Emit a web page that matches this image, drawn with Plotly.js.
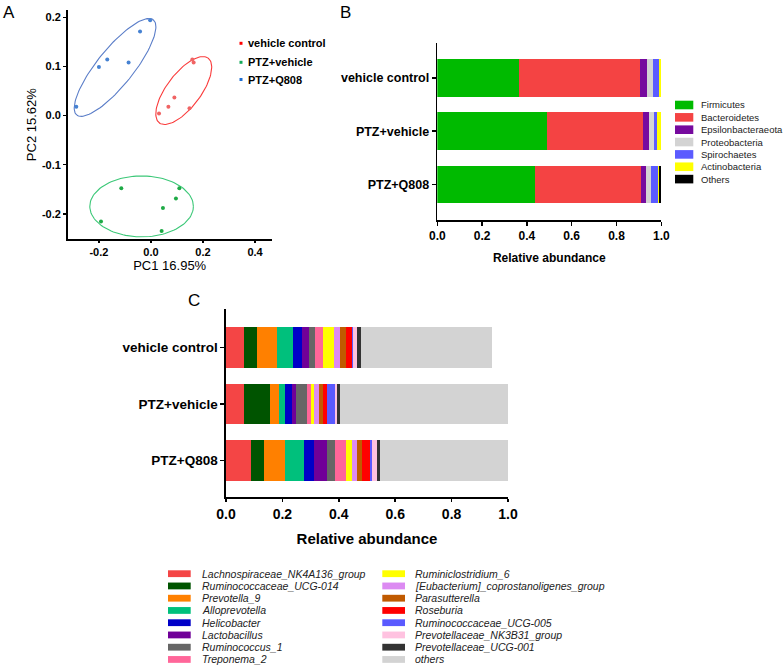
<!DOCTYPE html>
<html>
<head>
<meta charset="utf-8">
<script src="https://cdn.plot.ly/plotly-3.0.1.min.js"></script>
<style>html,body{margin:0;padding:0;background:#fff;}#chart{width:784px;height:666px;}</style>
</head>
<body>
<div id="chart"></div>
<script>
// ---------- Panel A : PCoA ----------
const groups = ['vehicle control', 'PTZ+vehicle', 'PTZ+Q808'];
const vcPC1 = [0.031, 0.067, 0.090, 0.148, 0.159, 0.164];
const vcPC2 = [0.004, 0.018, 0.037, 0.015, 0.114, 0.108];
const pvPC1 = [-0.114, -0.192, 0.046, 0.041, 0.096, 0.109];
const pvPC2 = [-0.148, -0.216, -0.188, -0.235, -0.169, -0.148];
const pqPC1 = [-0.287, -0.200, -0.168, -0.086, -0.042, -0.003];
const pqPC2 = [0.018, 0.099, 0.114, 0.108, 0.171, 0.194];
// confidence ellipses (centre, half major axis vector, half minor axis vector), order = groups
const ellCenterPC1 = [0.126, -0.036, -0.138];
const ellCenterPC2 = [0.051, -0.185, 0.098];
const ellMajorPC1 = [0.094, 0.199, 0.147];
const ellMajorPC2 = [0.066, 0.000, 0.097];
const ellMinorPC1 = [0.052, 0.000, 0.055];
const ellMinorPC2 = [-0.021, 0.062, -0.023];

// ---------- Panel B : phylum ----------
const phyla = ['Firmicutes', 'Bacteroidetes', 'Epsilonbacteraeota', 'Proteobacteria', 'Spirochaetes', 'Actinobacteria', 'Others'];
const firmicutes = [0.366, 0.491, 0.436];
const bacteroidetes = [0.539, 0.426, 0.473];
const epsilonbacteraeota = [0.033, 0.029, 0.024];
const proteobacteria = [0.026, 0.023, 0.021];
const spirochaetes = [0.027, 0.013, 0.030];
const actinobacteria = [0.006, 0.015, 0.004];
const othersPhylum = [0.003, 0.003, 0.012];

// ---------- Panel C : genus ----------
const genera = ['Lachnospiraceae_NK4A136_group', 'Ruminococcaceae_UCG-014', 'Prevotella_9', 'Alloprevotella',
  'Helicobacter', 'Lactobacillus', 'Ruminococcus_1', 'Treponema_2', 'Ruminiclostridium_6',
  '[Eubacterium]_coprostanoligenes_group', 'Parasutterella', 'Roseburia', 'Ruminococcaceae_UCG-005',
  'Prevotellaceae_NK3B31_group', 'Prevotellaceae_UCG-001', 'others'];
const lachnoNK4A136 = [0.063, 0.064, 0.087];
const rumUCG014 = [0.046, 0.091, 0.048];
const prevotella9 = [0.073, 0.034, 0.073];
const alloprevotella = [0.056, 0.019, 0.067];
const helicobacter = [0.030, 0.027, 0.036];
const lactobacillus = [0.026, 0.013, 0.048];
const ruminococcus1 = [0.023, 0.038, 0.027];
const treponema2 = [0.028, 0.014, 0.041];
const ruminiclostridium6 = [0.037, 0.011, 0.020];
const eubacteriumCopro = [0.023, 0.020, 0.016];
const parasutterella = [0.020, 0.013, 0.019];
const roseburia = [0.021, 0.013, 0.029];
const rumUCG005 = [0.005, 0.031, 0.008];
const prevNK3B31 = [0.012, 0.005, 0.017];
const prevUCG001 = [0.016, 0.012, 0.011];
const othersGenus = [0.464, 0.595, 0.453];

// ---------- styles ----------
const FONT = 'Arial, "Liberation Sans", sans-serif';
const W = 784, H = 666;
const px = v => v / W;
const py = v => 1 - v / H;

const pointColors = ['rgb(240,100,100)', 'rgb(30,170,70)', 'rgb(70,130,210)'];
const ellipseColors = ['rgb(250,60,60)', 'rgb(60,200,120)', 'rgb(90,125,200)'];
const legendDotColors = ['rgb(255,0,0)', 'rgb(20,170,90)', 'rgb(30,110,210)'];
const phylaColors = ['#00BA00', '#F44343', '#760A9E', '#D3D3D3', '#5B5BFF', '#FFFF00', '#000000'];
const genusColors = ['#F44545', '#005400', '#FF8000', '#00C07C', '#0000C8', '#700098', '#666666', '#FF6699',
  '#FFFF00', '#DC8AF2', '#C05A00', '#FF0000', '#5A5AFF', '#FFC2E0', '#333333', '#D3D3D3'];

const traces = [];
const pcx = [vcPC1, pvPC1, pqPC1], pcy = [vcPC2, pvPC2, pqPC2];
for (let g = 0; g < 3; g++) {
  const ex = [], ey = [];
  for (let k = 0; k <= 120; k++) {
    const t = 2 * Math.PI * k / 120;
    ex.push(ellCenterPC1[g] + ellMajorPC1[g] * Math.cos(t) + ellMinorPC1[g] * Math.sin(t));
    ey.push(ellCenterPC2[g] + ellMajorPC2[g] * Math.cos(t) + ellMinorPC2[g] * Math.sin(t));
  }
  traces.push({type: 'scatter', mode: 'lines', x: ex, y: ey, xaxis: 'x', yaxis: 'y',
    line: {color: ellipseColors[g], width: 1.1}, hoverinfo: 'skip', showlegend: false});
  traces.push({type: 'scatter', mode: 'markers', x: pcx[g], y: pcy[g], xaxis: 'x', yaxis: 'y',
    name: groups[g], marker: {color: pointColors[g], size: 4}, showlegend: false});
}

const phylaData = [firmicutes, bacteroidetes, epsilonbacteraeota, proteobacteria, spirochaetes, actinobacteria, othersPhylum];
phylaData.forEach((vals, i) => traces.push({
  type: 'bar', orientation: 'h', x: vals, y: groups, xaxis: 'x2', yaxis: 'y2', name: phyla[i],
  marker: {color: phylaColors[i], line: {width: 0}}, width: 0.71, showlegend: false
}));

const genusData = [lachnoNK4A136, rumUCG014, prevotella9, alloprevotella, helicobacter, lactobacillus,
  ruminococcus1, treponema2, ruminiclostridium6, eubacteriumCopro, parasutterella, roseburia,
  rumUCG005, prevNK3B31, prevUCG001, othersGenus];
genusData.forEach((vals, i) => traces.push({
  type: 'bar', orientation: 'h', x: vals, y: groups, xaxis: 'x3', yaxis: 'y3', name: genera[i],
  marker: {color: genusColors[i], line: {width: 0}}, width: 0.72, showlegend: false
}));

const annotations = [];
const shapes = [];
// panel letters
[['A', 9, 12], ['B', 345, 12], ['C', 194, 300]].forEach(([t, x, y]) => annotations.push({
  text: t, xref: 'paper', yref: 'paper', x: px(x), y: py(y), xanchor: 'center', yanchor: 'middle',
  showarrow: false, font: {family: FONT, size: 17, color: '#000'}
}));
// legend A
const legARows = [43.3, 62.3, 79.5];
groups.forEach((g, i) => {
  shapes.push({type: 'rect', xref: 'paper', yref: 'paper', x0: px(239.5), x1: px(242.5),
    y0: py(legARows[i] + 1.5), y1: py(legARows[i] - 1.5), fillcolor: legendDotColors[i], line: {width: 0}});
  annotations.push({text: g, xref: 'paper', yref: 'paper', x: px(246), y: py(legARows[i]),
    xanchor: 'left', yanchor: 'middle', showarrow: false, font: {family: FONT, size: 11, color: '#000', weight: 'bold'}});
});
// legend B
phyla.forEach((p, i) => {
  const yc = 105 + i * 12.35;
  shapes.push({type: 'rect', xref: 'paper', yref: 'paper', x0: px(675), x1: px(693.3),
    y0: py(yc + 4.3), y1: py(yc - 4.3), fillcolor: phylaColors[i], line: {width: 0}});
  annotations.push({text: p, xref: 'paper', yref: 'paper', x: px(698.5), y: py(yc),
    xanchor: 'left', yanchor: 'middle', showarrow: false, font: {family: FONT, size: 9.5, color: '#222'}});
});
// legend C
genera.forEach((gname, i) => {
  const col = i < 8 ? 0 : 1;
  const row = i % 8;
  const yc = 573.7 + row * 12.25;
  const sx0 = col === 0 ? 168 : 382.3;
  const tx = col === 0 ? 200 : 413;
  shapes.push({type: 'rect', xref: 'paper', yref: 'paper', x0: px(sx0), x1: px(sx0 + 22.7),
    y0: py(yc + 3.4), y1: py(yc - 3.4), fillcolor: genusColors[i], line: {width: 0}});
  annotations.push({text: '<i>' + gname + '</i>', xref: 'paper', yref: 'paper', x: px(tx), y: py(yc),
    xanchor: 'left', yanchor: 'middle', showarrow: false, font: {family: FONT, size: 10.5, color: '#222'}});
});

const axBase = {showline: true, linecolor: '#000', linewidth: 1.6, showgrid: false, zeroline: false,
  ticks: 'outside', tickcolor: '#000', tickwidth: 1.5, automargin: false, fixedrange: true};

const layout = {
  width: W, height: H, autosize: false, margin: {l: 0, r: 0, t: 0, b: 0},
  paper_bgcolor: '#fff', plot_bgcolor: '#fff', barmode: 'stack', showlegend: false,
  font: {family: FONT, color: '#000'},
  xaxis: Object.assign({}, axBase, {domain: [px(67.7), px(271.7)], range: [-0.32, 0.464], anchor: 'y',
    tickvals: [-0.2, 0, 0.2, 0.4], ticktext: ['-0.2', '0.0', '0.2', '0.4'], ticklen: 2,
    tickfont: {family: FONT, size: 11, weight: 'bold'},
    title: {text: 'PC1 16.95%', font: {family: FONT, size: 13}, standoff: 4}}),
  yaxis: Object.assign({}, axBase, {domain: [py(239.3), py(10)], range: [-0.252, 0.215], anchor: 'x',
    tickvals: [-0.2, -0.1, 0, 0.1, 0.2], ticktext: ['-0.2', '-0.1', '0.0', '0.1', '0.2'], ticklen: 3,
    tickfont: {family: FONT, size: 11, weight: 'bold'},
    title: {text: 'PC2 15.62%', font: {family: FONT, size: 13}, standoff: 2}}),
  xaxis2: Object.assign({}, axBase, {domain: [px(437.3), px(661.3)], range: [0, 1.0], anchor: 'y2',
    tickvals: [0, 0.2, 0.4, 0.6, 0.8, 1.0], ticktext: ['0.0', '0.2', '0.4', '0.6', '0.8', '1.0'], ticklen: 4,
    tickfont: {family: FONT, size: 12, weight: 'bold'},
    title: {text: 'Relative abundance', font: {family: FONT, size: 12, weight: 'bold'}, standoff: 11}}),
  yaxis2: Object.assign({}, axBase, {domain: [py(220), py(42.7)], type: 'category', categoryorder: 'array',
    categoryarray: groups, range: [2.67, -0.666], anchor: 'x2', ticklen: 4,
    tickfont: {family: FONT, size: 12.5, weight: 'bold'}}),
  xaxis3: Object.assign({}, axBase, {domain: [px(226), px(508)], range: [0, 1.0], anchor: 'y3',
    tickvals: [0, 0.2, 0.4, 0.6, 0.8, 1.0], ticktext: ['0.0', '0.2', '0.4', '0.6', '0.8', '1.0'], ticklen: 3,
    tickfont: {family: FONT, size: 14, weight: 'bold'},
    title: {text: 'Relative abundance', font: {family: FONT, size: 15, weight: 'bold'}, standoff: 13}}),
  yaxis3: Object.assign({}, axBase, {domain: [py(497.3), py(309)], type: 'category', categoryorder: 'array',
    categoryarray: groups, range: [2.655, -0.68], anchor: 'x3', ticklen: 4,
    tickfont: {family: FONT, size: 13.5, weight: 'bold'}}),
  annotations: annotations,
  shapes: shapes
};

Plotly.newPlot('chart', traces, layout, {displayModeBar: false, staticPlot: true});
</script>
</body>
</html>
